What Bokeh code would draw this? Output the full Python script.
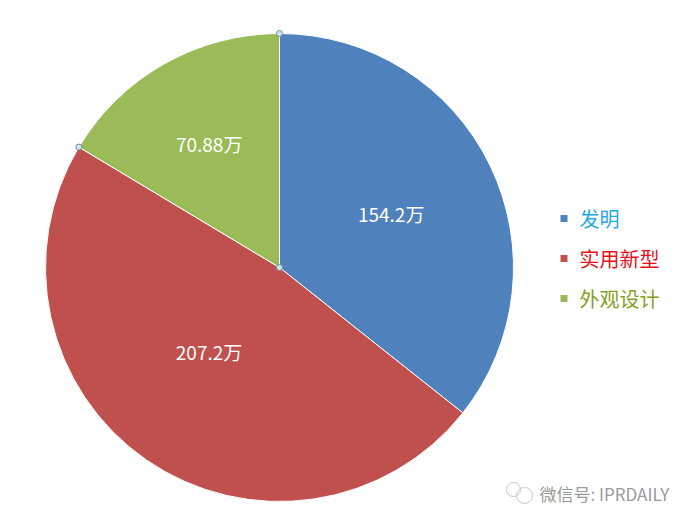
import math
from bokeh.plotting import figure
from bokeh.models import Range1d, ColumnDataSource
from bokeh.core.properties import value
from bokeh.embed import file_html
from bokeh.resources import INLINE

categories = ["发明", "实用新型", "外观设计"]
values = [154.2, 207.2, 70.88]
labels = ["154.2万", "207.2万", "70.88万"]
slice_colors = ["#4F81BD", "#C0504D", "#9BBB59"]
legend_text_colors = ["#1FA8E8", "#E8101A", "#86A01E"]
watermark = "微信号: IPRDAILY"

W, H = 677, 510
p = figure(width=W, height=H, output_backend="svg", toolbar_location=None,
           x_range=Range1d(0, W), y_range=Range1d(0, H), min_border=0)
p.axis.visible = False
p.grid.visible = False
p.outline_line_color = None
p.background_fill_color = "white"

cx, cy, r = 279, 243, 234
total = sum(values)
starts, ends, mids = [], [], []
a = math.pi / 2
for v in values:
    span = v / total * 2 * math.pi
    starts.append(a)
    ends.append(a - span)
    mids.append(a - span / 2)
    a -= span

src = ColumnDataSource(dict(start=starts, end=ends, color=slice_colors))
p.wedge(x=cx, y=cy, radius=r, start_angle="start", end_angle="end",
        direction="clock", fill_color="color", line_color="white",
        line_width=1, source=src)

# data-label placement (layout only)
label_frac = [0.53, 0.47, 0.61]
label_nudge = [0.0, -0.09, 0.0]
lx = [cx + f * r * math.cos(m + d) for f, m, d in zip(label_frac, mids, label_nudge)]
ly = [cy + f * r * math.sin(m + d) for f, m, d in zip(label_frac, mids, label_nudge)]
p.text(x=lx, y=ly, text=labels, text_color="white", text_align="center",
       text_baseline="middle", text_font=value("Noto Sans CJK SC"),
       text_font_size="19px")

# selection handles on the green slice
hx = [cx, cx, cx + r * math.cos(starts[2])]
hy = [cy, cy + r, cy + r * math.sin(starts[2])]
p.scatter(x=hx, y=hy, size=6, fill_color="#CFE6F0", line_color="#6F8FA0",
          line_width=1)

# legend
leg_y = [H - 218 - 40 * i for i in range(len(categories))]
p.scatter(x=[563.5] * 3, y=leg_y, marker="square", size=7,
          fill_color=slice_colors, line_color=None)
p.text(x=[579] * 3, y=leg_y, text=categories, text_color=legend_text_colors,
       text_baseline="middle", text_font=value("Noto Sans CJK SC"),
       text_font_size="20px")

# watermark
p.circle(x=[513, 524], y=[H - 489, H - 495], radius=[7, 8],
         fill_color=None, line_color="#C8C8C8", line_width=1)
p.text(x=[539], y=[H - 493], text=[watermark], text_color="#9A9A9A",
       text_baseline="middle", text_font=value("Noto Sans CJK SC"),
       text_font_size="17px")

open("out.html", "w").write(file_html(p, INLINE))
